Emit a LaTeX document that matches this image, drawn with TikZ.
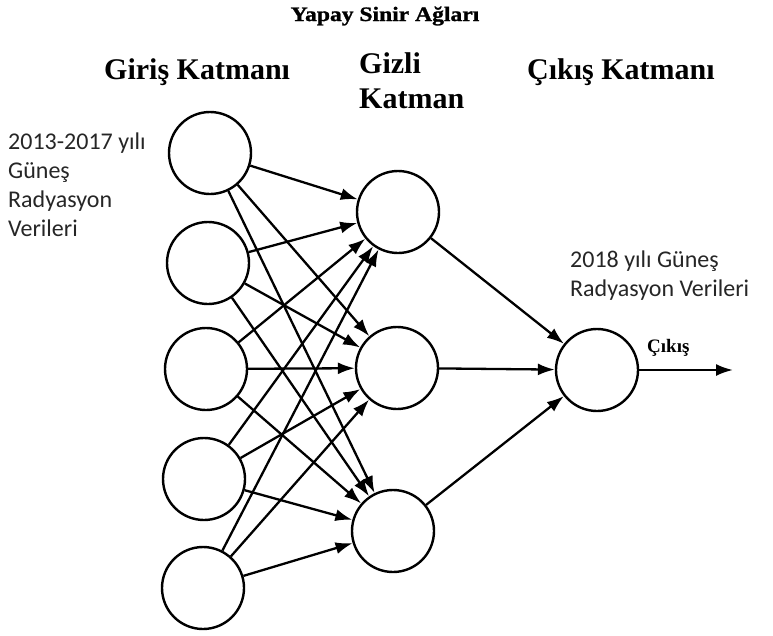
\documentclass[tikz,border=0pt]{standalone}
\usepackage{fontspec}
\setmainfont{Liberation Serif}
\newfontfamily\calfont{Carlito}
\newfontfamily\titlefont[FakeStretch=1.15,FakeBold=1.2]{Liberation Serif}
\usetikzlibrary{arrows.meta}
\begin{document}
\begin{tikzpicture}[x=1pt,y=-1pt,
  neuron/.style={circle, draw, line width=2.4pt, minimum size=82pt, inner sep=0pt},
  link/.style={line width=2.3pt, -{Latex[length=17pt,width=12pt]}},
  head/.style={font=\fontsize{30}{35}\selectfont\bfseries, inner sep=0pt, anchor=base west, align=left},
  note/.style={font=\calfont\fontsize{24}{28.7}\selectfont, inner sep=0pt, anchor=base west, align=left, text=black!85}]
\useasboundingbox (0,0) rectangle (773,635);
\fill[white] (0,0) rectangle (773,635);
% title and headings
\node[font=\titlefont\bfseries\fontsize{20.5}{24}\selectfont, inner sep=0pt, anchor=base] (title) at (385,21) {Yapay Sinir Ağları};
\node[head] (hin) at (104,79) {Giriş Katmanı};
\node[head] (hhid) at (359,108) {Gizli\\Katman};
\node[head] (hout) at (527,79) {Çıkış Katmanı};
% notes
\node[note] (nin) at (8,236) {2013-2017 yılı\\Güneş\\Radyasyon\\Verileri};
\node[note] (nout) at (570,296) {2018 yılı Güneş\\Radyasyon Verileri};
% neurons
\node[neuron] (i1) at (210,153) {};
\node[neuron] (i2) at (208,263) {};
\node[neuron] (i3) at (206,369) {};
\node[neuron] (i4) at (204,479) {};
\node[neuron] (i5) at (203,588) {};
\node[neuron] (h1) at (398,212) {};
\node[neuron] (h2) at (397,368) {};
\node[neuron] (h3) at (393,531) {};
\node[neuron] (o) at (597,370) {};
% connections
\foreach \i in {1,...,5}{
  \foreach \h in {1,2,3}{
    \draw[link] (i\i) -- (h\h);
  }
}
\foreach \h in {1,2,3}{
  \draw[link] (h\h) -- (o);
}
\coordinate (end) at (733,370);
\draw[link] (o) -- (end);
\node[font=\bfseries\fontsize{19}{22}\selectfont, inner sep=0pt, anchor=base west] (cik) at (647,352) {Çıkış};
\end{tikzpicture}
\end{document}
